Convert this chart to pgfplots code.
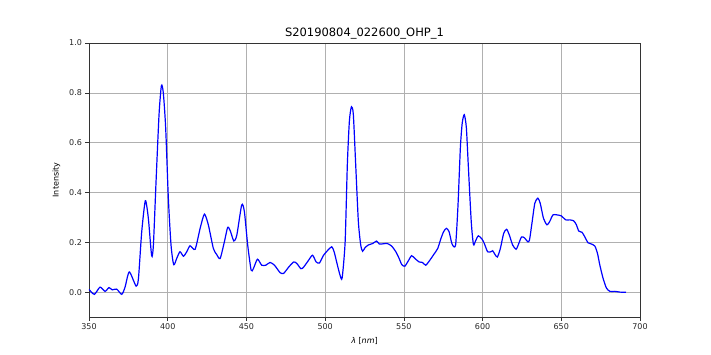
\documentclass[border=0pt]{standalone}
\usepackage{fontspec}
\setmainfont{DejaVu Sans}
\usepackage{pgfplots}
\pgfplotsset{compat=1.18}
\definecolor{gridgray}{HTML}{B0B0B0}
\begin{document}
\begin{tikzpicture}
\useasboundingbox (-89pt,-37pt) rectangle (622pt,317pt);
\begin{axis}[
  at={(0,0)}, anchor=south west,
  scale only axis, width=551pt, height=274pt,
  xmin=350, xmax=700, ymin=-0.1, ymax=1.0,
  xtick={350,400,...,700}, ytick={0,0.2,...,1.0},
  yticklabel style={/pgf/number format/.cd,fixed,fixed zerofill,precision=1},
  /pgf/number format/assume math mode=true,
  ticklabel style={font=\fontsize{8}{9}\selectfont, text=black!85},
  tick align=outside, tick pos=left,
  major tick length=3.5pt,
  tick style={black!80, line width=0.6pt},
  axis line style={black!80, line width=0.8pt},
  grid=major, major grid style={gridgray, line width=0.6pt},
  title={S20190804\_022600\_OHP\_1},
  title style={font=\fontsize{11.5}{13}\selectfont, yshift=-6pt},
  xlabel={{\itshape λ} [{\itshape nm}]},
  ylabel={Intensity},
  label style={font=\fontsize{8}{9}\selectfont},
  xlabel style={yshift=0pt},
  ylabel style={yshift=2pt},
]
\addplot[color={rgb,255:red,0;green,0;blue,255}, line width=1.2pt, smooth, tension=0.4] coordinates {
(350,0.011) (353.4,-0.009) (357,0.02) (360.2,0.003) (362.7,0.018) (364.8,0.009)
(367.6,0.012) (370.8,-0.009) (372.9,0.02) (375.6,0.081) (379.9,0.024) (381.4,0.054)
(383.5,0.243) (385.8,0.367) (387.7,0.296) (389.8,0.146) (390.9,0.189) (392.6,0.445)
(394.5,0.714) (396,0.829) (397.2,0.80) (398.7,0.66) (400.4,0.377) (402.1,0.189)
(403.8,0.11) (405.7,0.135) (407.8,0.162) (410,0.144) (412.1,0.162) (414.2,0.186)
(417.4,0.172) (420.6,0.256) (423.3,0.313) (425.8,0.27) (429,0.175) (431.1,0.151)
(433.3,0.135) (436,0.202) (438.1,0.26) (439.8,0.245) (442,0.205) (443.9,0.229)
(447,0.35) (448.7,0.323) (450.8,0.189) (453,0.088) (454.4,0.094) (457,0.132)
(459.7,0.108) (462.3,0.108) (465,0.119) (467.8,0.108) (471.4,0.078) (473.6,0.075)
(476.8,0.10) (480,0.121) (482,0.115) (484.6,0.094) (486.3,0.10) (489.5,0.128)
(492,0.148) (494.3,0.121) (496.4,0.117) (499,0.148) (501.7,0.168) (504.2,0.182)
(505.7,0.162) (507.8,0.108) (509.5,0.067) (510.8,0.057) (512.7,0.202) (514.1,0.512)
(515.4,0.687) (516.7,0.744) (517.9,0.714) (519.4,0.512) (521.1,0.283) (522.6,0.189)
(523.8,0.164) (525.3,0.178) (527.4,0.189) (530.2,0.195) (532.7,0.205) (534.4,0.193)
(536.9,0.194) (539.5,0.195) (542.2,0.185) (544.9,0.162) (547,0.135) (548.7,0.11)
(550.6,0.104) (552.7,0.124) (554.9,0.146) (557,0.135) (559.7,0.121) (561.8,0.119)
(563.9,0.108) (566.5,0.128) (569,0.151) (571.5,0.175) (573.6,0.216) (575.3,0.243)
(577,0.256) (578.7,0.243) (580.2,0.202) (581.2,0.186) (582.9,0.191) (584.4,0.35)
(585.9,0.58) (587.1,0.68) (588.4,0.712) (589.7,0.66) (590.9,0.512) (592.8,0.283)
(594.2,0.191) (595.5,0.205) (597.3,0.226) (599.6,0.213) (601.1,0.195) (603.2,0.162)
(605.3,0.162) (606.4,0.166) (607.9,0.151) (609.4,0.141) (611.3,0.175) (613.4,0.236)
(615.3,0.252) (617,0.229) (619.1,0.189) (621.3,0.172) (623,0.195) (624.7,0.221)
(626.6,0.218) (628.7,0.202) (629.8,0.209) (631.5,0.283) (633.2,0.357) (635.1,0.377)
(636.6,0.357) (638.7,0.296) (640.9,0.27) (642.6,0.283) (644.7,0.31) (647.2,0.31)
(650,0.306) (652.8,0.29) (655.3,0.29) (657.9,0.286) (659.6,0.27) (661.1,0.245)
(663.2,0.24) (664.9,0.222) (667,0.198) (669.1,0.193) (671.3,0.185) (673,0.155)
(674.5,0.108) (676.6,0.054) (678.7,0.016) (680.9,0.003) (684,0.003) (687.2,0.0)
(691.1,-0.001)
};
\end{axis}
\end{tikzpicture}
\end{document}
